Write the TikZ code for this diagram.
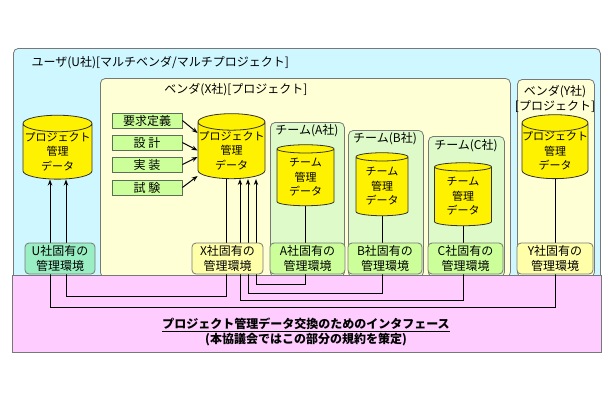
\documentclass[tikz,border=0pt]{standalone}
\usepackage{fontspec}
\setmainfont{Noto Sans CJK JP}
\usetikzlibrary{shapes.geometric,arrows.meta}

\definecolor{userfill}{RGB}{207,247,255}
\definecolor{vendfill}{RGB}{255,255,214}
\definecolor{teamfill}{RGB}{221,250,200}
\definecolor{envu}{RGB}{153,238,195}
\definecolor{envx}{RGB}{255,255,170}
\definecolor{envt}{RGB}{204,255,153}
\definecolor{taskfill}{RGB}{204,255,153}
\definecolor{taskline}{RGB}{90,110,90}
\definecolor{ifcfill}{RGB}{255,204,255}
\definecolor{edgegray}{RGB}{120,120,120}
\definecolor{dbline}{RGB}{50,50,50}

\begin{document}
\begin{tikzpicture}[
    x=1pt,
    y=-1pt,
    font=\fontsize{12}{15}\selectfont,
    cont/.style={draw=edgegray, rounded corners=5pt, line width=0.8pt, anchor=north west, inner sep=0pt},
    db/.style={cylinder, shape border rotate=90, aspect=0.25, draw=dbline, fill=yellow, line width=0.8pt,
        inner sep=0pt, align=center, font=\fontsize{11}{14.5}\selectfont},
    env/.style={draw=edgegray, rounded corners=4pt, line width=0.8pt, inner sep=0pt, align=center, minimum height=31pt},
    task/.style={draw=taskline, fill=taskfill, line width=0.8pt, minimum width=70pt, minimum height=15pt, inner sep=0pt},
    e/.style={draw, line width=1pt, -{Stealth[length=6pt,width=4.5pt]}},
]
    \useasboundingbox (0,0) rectangle (610,400);

    % boxes
    \node[cont, fill=userfill, minimum width=587pt, minimum height=232pt] (user) at (13,48) {};
    \node[cont, fill=vendfill, minimum width=410pt, minimum height=199pt] (vx) at (100,78) {};
    \node[cont, fill=vendfill, minimum width=77pt, minimum height=198pt] (vy) at (517,79) {};
    \node[cont, fill=teamfill, minimum width=74pt, minimum height=155pt] (ta) at (270,122) {};
    \node[cont, fill=teamfill, minimum width=75pt, minimum height=147pt] (tb) at (348,130) {};
    \node[cont, fill=teamfill, minimum width=76pt, minimum height=141pt] (tc) at (428,136) {};
    \node[draw=edgegray, fill=ifcfill, line width=0.8pt, anchor=north west, inner sep=0pt,
        minimum width=589pt, minimum height=77pt] (ifc) at (12,275) {};

    \node[anchor=west] (usertitle) at (28,63) {ユーザ(U社)[マルチベンダ/マルチプロジェクト]};
    \node (vxtitle) at (236,90) {ベンダ(X社)[プロジェクト]};
    \node[align=center] (vytitle) at (555,99) {ベンダ(Y社)\\{[}プロジェクト{]}};
    \node (tatitle) at (307,131) {チーム(A社)};
    \node (tbtitle) at (385,139) {チーム(B社)};
    \node (tctitle) at (466,146) {チーム(C社)};

    % data
    \node[db, minimum width=69pt, minimum height=63pt] (ud) at (57.5,151.5) {プロジェクト\\管理\\データ};
    \node[db, minimum width=67pt, minimum height=65pt] (xd) at (231.5,150.5) {プロジェクト\\管理\\データ};
    \node[db, minimum width=57pt, minimum height=61pt] (ad) at (305.5,177.5) {チーム\\管理\\データ};
    \node[db, minimum width=52pt, minimum height=63pt] (bd) at (382,186.5) {チーム\\管理\\データ};
    \node[db, minimum width=57pt, minimum height=63pt] (cd) at (463,196.5) {チーム\\管理\\データ};
    \node[db, minimum width=64pt, minimum height=62pt] (yd) at (555,151) {プロジェクト\\管理\\データ};

    % tasks
    \node[task] (req) at (147,120.5) {要求定義};
    \node[task] (des) at (147,142.5) {設 計};
    \node[task] (imp) at (147,164.5) {実 装};
    \node[task] (tst) at (147,187.5) {試 験};

    \path[e] (req.east) -- ([yshift=17.5pt]xd.west);
    \path[e] (des.east) -- (xd.west);
    \path[e] (imp.east) -- ([yshift=-6.5pt]xd.west);
    \path[e] (tst.east) -- ([yshift=-25.5pt]xd.west);

    % wires
    \coordinate (cu1) at (50,0);
    \coordinate (cu2) at (66,0);
    \coordinate (cx0) at (226,0);
    \coordinate (cx1) at (240,0);
    \coordinate (cx2) at (248,0);
    \coordinate (cx3) at (256,0);
    \coordinate (la) at (0,284);
    \coordinate (lb) at (0,293);
    \coordinate (lx) at (0,296);
    \coordinate (lc) at (0,300);
    \coordinate (ly) at (0,307);

    \path[e] (yd.south) |- (cu1 |- ly) -- (cu1 |- ud.south);
    \path[e] (cx0 |- xd.south) |- (cu2 |- lx) -- (cu2 |- ud.south);
    \path[e] (cd.south) |- (cx1 |- lc) -- (cx1 |- xd.south);
    \path[e] (bd.south) |- (cx2 |- lb) -- (cx2 |- xd.south);
    \path[e] (ad.south) |- (cx3 |- la) -- (cx3 |- xd.south);

    % environments
    \node[env, fill=envu, minimum width=70pt] (ue) at (60,258.5) {U社固有の\\管理環境};
    \node[env, fill=envx, minimum width=71pt] (xe) at (227.5,258.5) {X社固有の\\管理環境};
    \node[env, fill=envt, minimum width=75pt] (ae) at (307.5,258.5) {A社固有の\\管理環境};
    \node[env, fill=envt, minimum width=74pt] (be) at (385,258.5) {B社固有の\\管理環境};
    \node[env, fill=envt, minimum width=75pt] (ce) at (465.5,258.5) {C社固有の\\管理環境};
    \node[env, fill=envx, minimum width=76pt] (ye) at (555,258.5) {Y社固有の\\管理環境};

    \node (ifctext) at (306,325) {\bfseries\underline{プロジェクト管理データ交換のためのインタフェース}};
    \node (ifcnote) at (306,340) {\bfseries(本協議会ではこの部分の規約を策定)};
\end{tikzpicture}
\end{document}
